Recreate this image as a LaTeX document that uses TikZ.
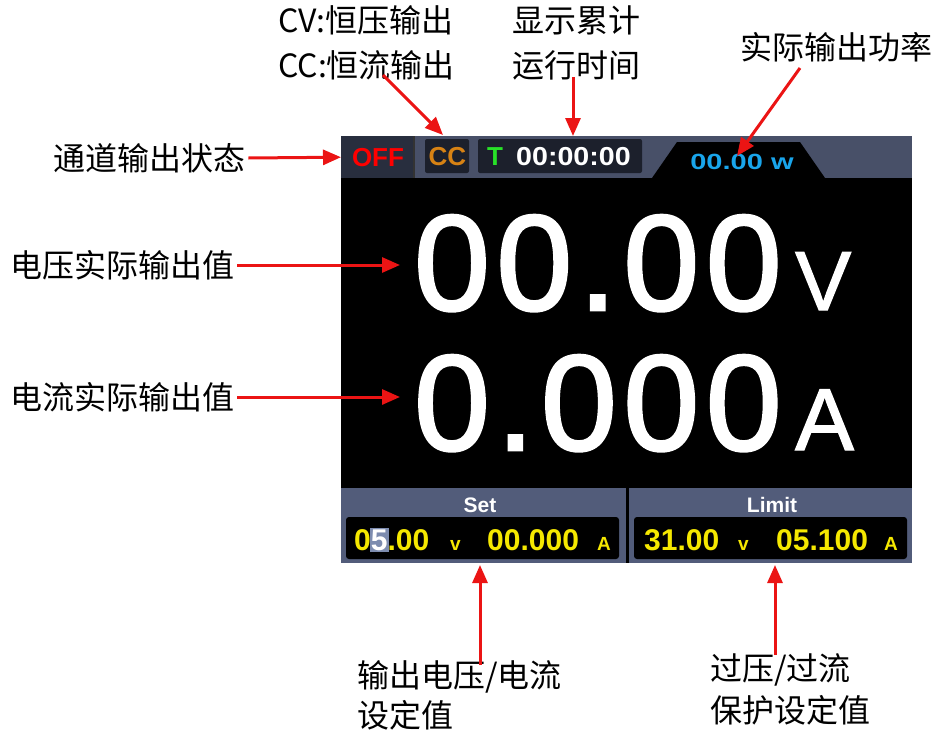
\documentclass[tikz,border=0pt]{standalone}
\usepackage{fontspec}
\setmainfont{Liberation Sans}
\newfontfamily\cjk{Noto Sans CJK SC}
\usetikzlibrary{arrows.meta}
\definecolor{barbg}{RGB}{72,80,104}
\definecolor{offbg}{RGB}{40,46,62}
\definecolor{boxbg}{RGB}{28,32,44}
\definecolor{panelbg}{RGB}{82,92,122}
\definecolor{ylw}{RGB}{245,232,0}
\definecolor{pwr}{RGB}{25,165,235}
\definecolor{ccor}{RGB}{215,130,20}
\definecolor{tgrn}{RGB}{40,225,40}
\definecolor{arrred}{RGB}{235,20,20}
\definecolor{hl}{RGB}{125,140,175}
\begin{document}
\begin{tikzpicture}[x=1pt,y=-1pt,
  lbl/.style={font=\cjk\fontsize{32}{36}\selectfont, inner sep=0pt, anchor=west},
  arr/.style={draw=arrred, line width=3pt, -{Triangle[length=18pt,width=15pt]}},
  big/.style={font=\fontsize{136}{140}\selectfont\addfontfeature{LetterSpace=5,FakeBold=2}, text=white, inner sep=0pt, anchor=base west},
  unit/.style={text=white, inner sep=0pt, anchor=base west},
  topt/.style={font=\bfseries\fontsize{26}{28}\selectfont, inner sep=0pt},
  ydig/.style={font=\bfseries\fontsize{30}{32}\selectfont, text=ylw, inner sep=0pt, anchor=base west},
  yunit/.style={font=\bfseries\fontsize{19}{21}\selectfont, text=ylw, inner sep=0pt, anchor=base west},
  ptitle/.style={font=\bfseries\fontsize{21}{23}\selectfont, text=white, inner sep=0pt},
  valbox/.style={fill=black, rounded corners=3pt, minimum width=273pt, minimum height=42pt, inner sep=0pt},
]
\useasboundingbox (0,0) rectangle (940,731);
% screen
\fill[black] (341,136) rectangle (912,563);
\fill[barbg] (341,136) rectangle (912,178);
\node[fill=offbg, minimum width=72pt, minimum height=42pt, inner sep=0pt, anchor=north west] (offbox) at (341,136) {};
\fill[black!80] (413,136) rectangle (415,178);
\node[topt, text=red] (offtxt) at (378,157.5) {OFF};
\node[fill=boxbg, rounded corners=2pt, minimum width=44pt, minimum height=34pt, inner sep=0pt] (ccbox) at (447,156) {};
\node[topt, text=ccor] (cctxt) at (447.5,157) {CC};
\node[fill=boxbg, rounded corners=2pt, minimum width=164pt, minimum height=34pt, inner sep=0pt] (tbox) at (560,156) {};
\node[topt, text=tgrn, anchor=west] (ttxt) at (487,157) {T};
\node[topt, text=white, anchor=west] (timetxt) at (516,157) {\scalebox{1.1}[1]{00:00:00}};
\fill[black] (652,178) -- (677,142) -- (800,142) -- (825,178) -- cycle;
\node[font=\bfseries\fontsize{22}{24}\selectfont, text=pwr, inner sep=0pt] (pwrtxt) at (742,162) {\scalebox{1.32}[1]{00.00 w}};
% main readings
\node[big] (volt) at (414,310) {00.00};
\node[unit, font=\fontsize{84}{86}\selectfont\addfontfeature{FakeBold=1.5}] (vunit) at (795,310) {V};
\node[big] (curr) at (414,450) {0.000};
\node[unit, font=\fontsize{88}{90}\selectfont\addfontfeature{FakeBold=1.5}] (aunit) at (795,450) {A};
% bottom panels
\fill[panelbg] (341,488) rectangle (626,563);
\fill[panelbg] (629,488) rectangle (912,563);
\node[ptitle] (settitle) at (480,505) {Set};
\node[ptitle] (limtitle) at (772,505) {Limit};
\node[valbox] (setbox) at (482.5,538) {};
\node[valbox] (limbox) at (770.5,538) {};
\fill[hl] (370,528) rectangle (389,552);
\node[ydig] (setv) at (354,550) {0\textcolor{white}{5}.00};
\node[yunit] (setvu) at (450,550) {v};
\node[ydig] (seta) at (487,550) {00.000};
\node[yunit] (setau) at (597,550) {A};
\node[ydig] (limv) at (644,550) {31.00};
\node[yunit] (limvu) at (738,550) {v};
\node[ydig] (lima) at (776,550) {05.100};
\node[yunit] (limau) at (884,550) {A};
% labels
\node[lbl] (lout) at (53,158) {通道输出状态};
\node[lbl] (lv) at (10,265) {电压实际输出值};
\node[lbl] (li) at (10,397) {电流实际输出值};
\node[lbl] (lcv) at (278,20) {CV:恒压输出};
\node[lbl] (lcc) at (278,65) {CC:恒流输出};
\node[lbl] (lt1) at (512,20) {显示累计};
\node[lbl] (lt2) at (512,65) {运行时间};
\node[lbl] (lp) at (740,47) {实际输出功率};
\node[lbl] (ls1) at (357,677) {输出电压/电流};
\node[lbl] (ls2) at (357,715) {设定值};
\node[lbl] (ll1) at (710,670) {过压/过流};
\node[lbl] (ll2) at (710,710) {保护设定值};
% arrow coordinates
\coordinate (vtip) at (400,265);
\coordinate (itip) at (400,397);
\coordinate (ccst) at (383,75);
\coordinate (cctip) at (443,135);
\coordinate (tst) at (573,77);
\coordinate (ttip) at (573,136);
\coordinate (pst) at (800,68);
\coordinate (ptip) at (737,156);
\coordinate (sst) at (480,665);
\coordinate (stip) at (480,565);
\coordinate (lst) at (775,655);
\coordinate (ltip) at (775,565);
% arrows
\draw[arr] ([xshift=3pt]lout.east) -- (offbox.west);
\draw[arr] ([xshift=3pt]lv.east) -- (vtip);
\draw[arr] ([xshift=3pt]li.east) -- (itip);
\draw[arr] (ccst) -- (cctip);
\draw[arr] (tst) -- (ttip);
\draw[arr] (pst) -- (ptip);
\draw[arr] (sst) -- (stip);
\draw[arr] (lst) -- (ltip);
\end{tikzpicture}
\end{document}
